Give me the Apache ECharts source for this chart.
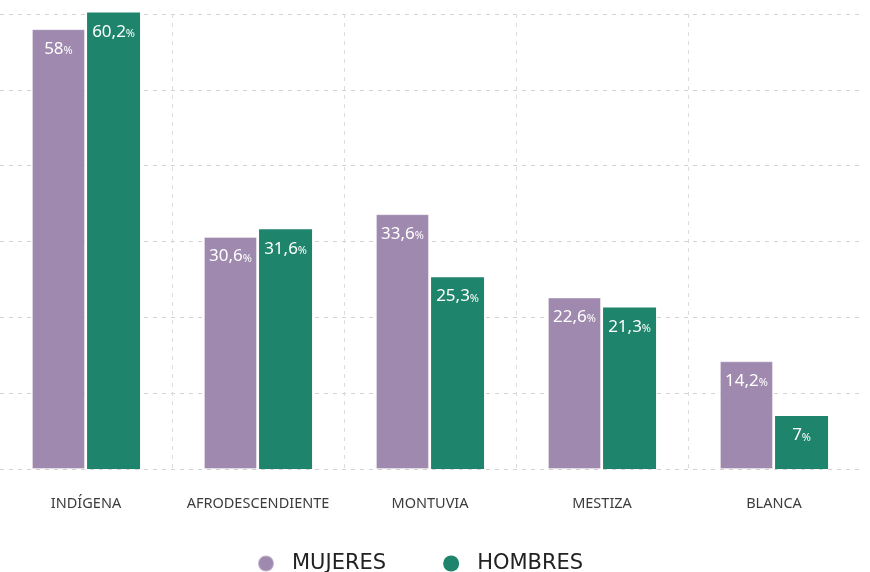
<!DOCTYPE html>
<html lang="es">
<head>
    <meta charset="UTF-8">
    <title>Mujeres y hombres por etnia</title>
    <script src="https://cdn.jsdelivr.net/npm/echarts/dist/echarts.min.js"></script>
    <style>
        html, body { margin: 0; padding: 0; background: #fff; }
        #chart { width: 870px; height: 572px; }
    </style>
</head>
<body>
<div id="chart"></div>
<script type="text/javascript">
    var categories = ['INDÍGENA', 'AFRODESCENDIENTE', 'MONTUVIA', 'MESTIZA', 'BLANCA'];
    var mujeres = [58, 30.6, 33.6, 22.6, 14.2];
    var hombres = [60.2, 31.6, 25.3, 21.3, 7];
    var seriesNames = ['MUJERES', 'HOMBRES'];

    var FONT = 'Noto Sans';

    // valor con coma decimal y % más pequeño
    function pct(p) {
        return '{v|' + String(p.value).replace('.', ',') + '}{p|%}';
    }
    var barLabel = {
        show: true,
        position: 'insideTop',
        distance: 11,
        formatter: pct,
        rich: {
            v: { color: '#fff', fontSize: 17, fontFamily: FONT },
            p: { color: '#fff', fontSize: 11, fontFamily: FONT, padding: [4, 0, 0, 0] }
        }
    };

    var myChart = echarts.init(document.getElementById('chart'));
    var option = {
        animation: false,
        grid: { left: 0, right: 10, top: 14, bottom: 103, containLabel: false },
        legend: {
            data: seriesNames,
            left: 252,
            top: 548,
            icon: 'circle',
            itemWidth: 16,
            itemHeight: 16,
            itemGap: 57,
            textStyle: { color: '#222', fontSize: 21, fontFamily: 'DejaVu Sans', padding: [0, 0, 0, 13] }
        },
        xAxis: {
            type: 'category',
            data: categories,
            axisLine: { show: false },
            axisTick: { show: false },
            axisLabel: { interval: 0, color: '#3c3c3c', fontSize: 14.5, fontFamily: FONT, margin: 27 },
            splitLine: {
                show: true,
                interval: 0,
                showMinLine: false,
                showMaxLine: false,
                lineStyle: { color: '#dcdcdc', type: [4, 5], width: 1 }
            }
        },
        yAxis: {
            type: 'value',
            min: 0,
            max: 60,
            interval: 10,
            axisLabel: { show: false },
            axisLine: { show: false },
            axisTick: { show: false },
            splitLine: { lineStyle: { color: '#d2d2d2', type: [4, 5], width: 1 } }
        },
        series: [
            {
                name: seriesNames[0],
                type: 'bar',
                data: mujeres,
                barWidth: 53,
                barGap: '4%',
                clip: false,
                itemStyle: { color: '#9f89ae', borderColor: 'rgba(255,255,255,0.35)', borderWidth: 1 },
                label: barLabel
            },
            {
                name: seriesNames[1],
                type: 'bar',
                data: hombres,
                barWidth: 53,
                barGap: '4%',
                clip: false,
                itemStyle: { color: '#1f846c' },
                label: barLabel
            }
        ]
    };
    myChart.setOption(option);
</script>
</body>
</html>
